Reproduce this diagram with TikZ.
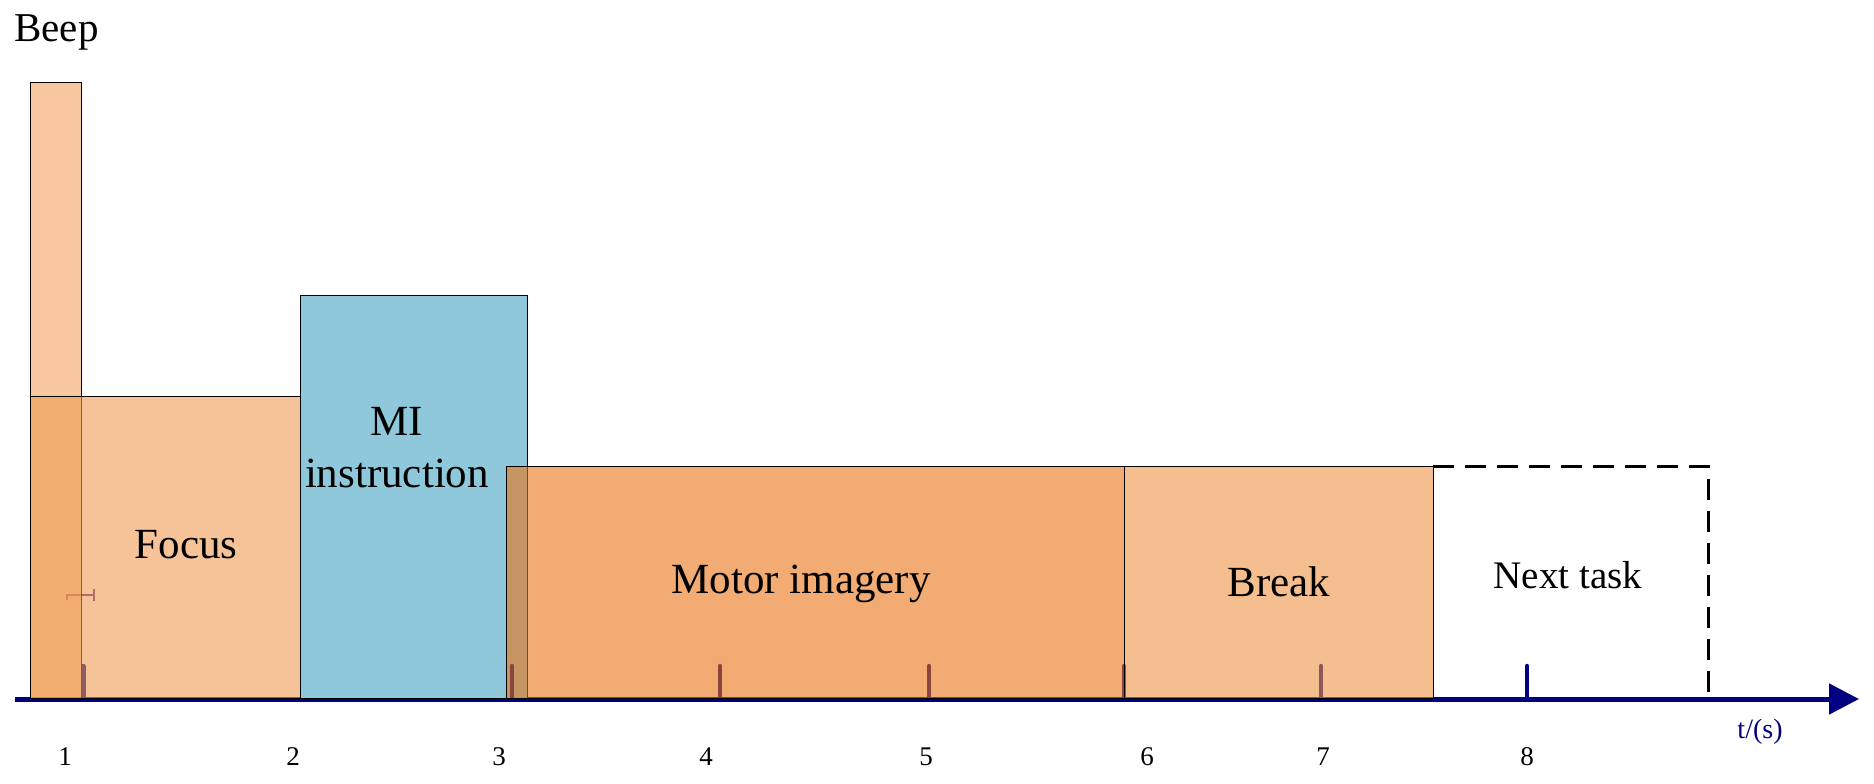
\documentclass[tikz,border=0pt]{standalone}
\usepackage{fontspec}
\setmainfont{Liberation Serif}
\usetikzlibrary{arrows.meta}
\definecolor{axisnavy}{RGB}{0,0,128}
\definecolor{beepor}{RGB}{242,163,97}
\definecolor{focusor}{RGB}{240,155,83}
\definecolor{motoror}{RGB}{233,115,20}
\definecolor{breakor}{RGB}{238,147,67}
\definecolor{miblue}{RGB}{143,200,218}
\definecolor{markpurple}{RGB}{80,40,120}
\begin{document}
\begin{tikzpicture}[x=0.5pt,y=-0.5pt,
  phase/.style={draw=black, line width=0.5pt, fill opacity=0.6, draw opacity=1},
  solidphase/.style={draw=black, line width=0.5pt},
  lbl/.style={font=\fontsize{21.5}{26}\selectfont, align=center, inner sep=0pt},
  smalllbl/.style={font=\fontsize{19.5}{23}\selectfont, inner sep=0pt},
  num/.style={font=\fontsize{13.5}{16}\selectfont, inner sep=0pt},
  tickmark/.style={axisnavy, line width=2.25pt, line cap=round},
  nextbox/.style={black, line width=1.5pt, dash pattern=on 10.5pt off 5.5pt}
]
\useasboundingbox (0,0) rectangle (1874,783);

% time axis
\coordinate (axL) at (15,699);
\coordinate (axR) at (1859,699);
\draw[axisnavy, line width=2.5pt, -{Triangle[length=15pt,width=15pt]}] (axL) -- (axR);
\foreach \tx in {83.5,720,929,1124,1321,1527}
  \draw[tickmark] (\tx,666) -- (\tx,699);

% small mark
\draw[markpurple, line width=1.2pt] (67,600) -- (67,595) -- (94,595);
\draw[markpurple, line width=1.2pt] (94,589) -- (94,601);

% phases
\path[phase, fill=beepor] (30,82) rectangle (81,698);
\path[phase, fill=focusor] (30,396) rectangle (300,698);
\path[solidphase, fill=miblue] (300,295) rectangle (527,698);
\draw[tickmark] (512,666) -- (512,699);
\path[phase, fill=motoror] (506,466) rectangle (1124,698);
\path[phase, fill=breakor] (1124,466) rectangle (1433,698);
\draw[nextbox] (1433,466) -- (1708,466) -- (1708,698);

% texts
\node[lbl, font=\fontsize{20.5}{24}\selectfont, anchor=base west] (beep) at (14,41) {Beep};
\node[lbl] (focus) at (186,545) {Focus};
\node[lbl] (mi) at (397,448) {MI\\instruction};
\node[lbl] (motor) at (801,584) {Motor imagery};
\node[lbl] (brk) at (1279,582) {Break};
\node[smalllbl] (next) at (1568,575) {Next task};
\node[num, text=axisnavy, font=\fontsize{14}{16}\selectfont] (tunit) at (1760,732) {t/(s)};

\node[num] (n1) at (65,757) {1};
\node[num] (n2) at (293,757) {2};
\node[num] (n3) at (499,757) {3};
\node[num] (n4) at (706,757) {4};
\node[num] (n5) at (926,757) {5};
\node[num] (n6) at (1147,757) {6};
\node[num] (n7) at (1323,757) {7};
\node[num] (n8) at (1527,757) {8};
\end{tikzpicture}
\end{document}
